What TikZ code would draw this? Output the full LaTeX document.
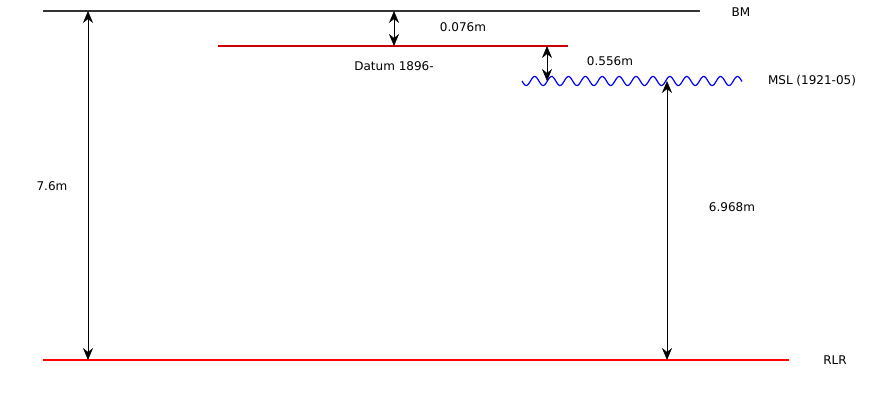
\documentclass[tikz,border=0pt]{standalone}
\usepackage{fontspec}
\setmainfont{DejaVu Sans}
\usetikzlibrary{arrows.meta}
\begin{document}
\begin{tikzpicture}[x=1pt,y=-1pt,
  lbl/.style={font=\fontsize{12}{14}\selectfont, inner sep=0pt},
  dim/.style={line width=1pt, {Stealth[length=12pt,width=10pt,inset=4pt,line width=0.5pt]}-{Stealth[length=12pt,width=10pt,inset=4pt,line width=0.5pt]}},
  level/.style={line width=2.6pt}]
\useasboundingbox (0,0) rectangle (875,400);
% levels
\coordinate (bmL) at (43,11); \coordinate (bmR) at (700,11);
\coordinate (dtL) at (218,46); \coordinate (dtR) at (568,46);
\coordinate (rlL) at (43,360); \coordinate (rlR) at (789,360);
\draw[level, black!80] (bmL) -- (bmR);
\draw[line width=1.6pt, red!80!black] (dtL) -- (dtR);
\draw[level, red] (rlL) -- (rlR);
\draw[blue, line width=1.2pt, domain=522:742, samples=400, smooth] plot (\x, {81 + 4.5*sin((\x-522)/16.9*360)});
% arrow points
\coordinate (a1t) at (88,11); \coordinate (a1b) at (88,360);
\coordinate (a2t) at (394,11); \coordinate (a2b) at (394,46);
\coordinate (a3t) at (547,46); \coordinate (a3b) at (547,81);
\coordinate (a4t) at (667,81); \coordinate (a4b) at (667,360);
\draw[dim] (a1t) -- (a1b);
\draw[dim] (a2t) -- (a2b);
\draw[dim] (a3t) -- (a3b);
\draw[dim] (a4t) -- (a4b);
% labels
\node[lbl] (bm) at (741,12) {BM};
\node[lbl] (datum) at (394,66) {Datum 1896-};
\node[lbl] (l076) at (463,27) {0.076m};
\node[lbl] (l556) at (610,61) {0.556m};
\node[lbl] (msl) at (812,81) {MSL (1921-05)};
\node[lbl] (l6968) at (732,207) {6.968m};
\node[lbl] (l76) at (52,186) {7.6m};
\node[lbl] (rlr) at (835,360) {RLR};
\end{tikzpicture}
\end{document}
